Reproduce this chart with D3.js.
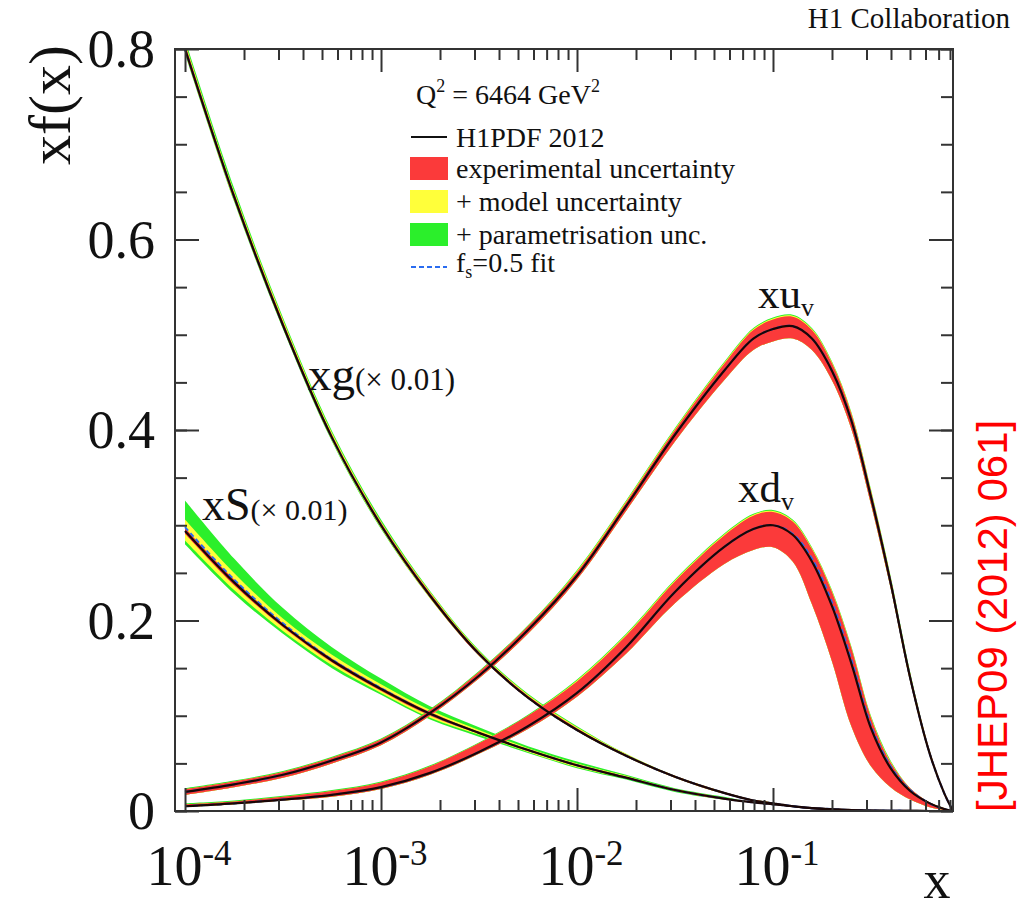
<!DOCTYPE html>
<html><head><meta charset="utf-8">
<script src="https://cdn.jsdelivr.net/npm/d3@7"></script>
<style>body{margin:0;background:#fff}svg{display:block}</style>
</head><body><svg id="c" width="1032" height="913"></svg>
<script>
// ---------------- data ----------------
const xGrid = [1e-4,1.78e-4,3.16e-4,5.62e-4,1e-3,1.78e-3,3.16e-3,5.62e-3,0.01,0.0178,0.0316,0.0562,0.0794,0.1,0.126,0.158,0.2,0.251,0.316,0.398,0.501,0.631,0.75,0.8288];

const xgC    = [0.800,0.645,0.510,0.392,0.300,0.226,0.165,0.119,0.085,0.058,0.036,0.019,0.011,0.008,0.005,0.003,0.0015,0.0008,0.0004,0.0002,0.0001,0,0,0];
const xgExpU = [0.005,0.004,0.004,0.003,0.003,0.003,0.002,0.002,0.002,0.001,0.001,0.001,0.001,0.001,0,0,0,0,0,0,0,0,0,0];
const xgExpD = [0.003,0.003,0.002,0.002,0.002,0.002,0.002,0.001,0.001,0.001,0.001,0.001,0,0,0,0,0,0,0,0,0,0,0,0];
const xgModU = [0.002,0.002,0.002,0.002,0.001,0.001,0.001,0.001,0.001,0.001,0,0,0,0,0,0,0,0,0,0,0,0,0,0];
const xgModD = [0.001,0.001,0.001,0.001,0.001,0.001,0,0,0,0,0,0,0,0,0,0,0,0,0,0,0,0,0,0];
const xgParU = [0.003,0.003,0.002,0.002,0.002,0.001,0.001,0.001,0.001,0,0,0,0,0,0,0,0,0,0,0,0,0,0,0];
const xgParD = [0.001,0.001,0.001,0.001,0.001,0,0,0,0,0,0,0,0,0,0,0,0,0,0,0,0,0,0,0];

const xsC    = [0.294,0.240,0.195,0.158,0.128,0.102,0.082,0.064,0.048,0.035,0.022,0.013,0.009,0.007,0.005,0.003,0.002,0.001,0.0005,0.0002,0.0001,0,0,0];
const xsFs   = [0.298,0.243,0.197,0.159,0.129,0.102,0.082,0.064,0.048,0.035,0.022,0.013,0.009,0.007,0.005,0.003,0.002,0.001,0.0005,0.0002,0.0001,0,0,0];
const xsExpU = [0.003,0.003,0.002,0.002,0.002,0.002,0.001,0.001,0.001,0.001,0.001,0.001,0,0,0,0,0,0,0,0,0,0,0,0];
const xsExpD = [0.003,0.003,0.002,0.002,0.002,0.002,0.001,0.001,0.001,0.001,0.001,0.001,0,0,0,0,0,0,0,0,0,0,0,0];
const xsModU = [0.009,0.007,0.005,0.004,0.003,0.002,0.002,0.001,0.001,0.001,0,0,0,0,0,0,0,0,0,0,0,0,0,0];
const xsModD = [0.007,0.005,0.004,0.003,0.002,0.002,0.001,0.001,0.001,0,0,0,0,0,0,0,0,0,0,0,0,0,0,0];
const xsParU = [0.020,0.015,0.011,0.008,0.006,0.004,0.003,0.002,0.002,0.001,0.001,0.001,0,0,0,0,0,0,0,0,0,0,0,0];
const xsParD = [0.004,0.004,0.003,0.003,0.002,0.002,0.002,0.001,0.001,0.001,0.001,0,0,0,0,0,0,0,0,0,0,0,0,0];

const xuC    = [0.020,0.028,0.038,0.053,0.072,0.103,0.142,0.190,0.247,0.320,0.395,0.462,0.496,0.506,0.509,0.496,0.462,0.410,0.330,0.240,0.140,0.060,0.018,0];
const xuExpU = [0.003,0.003,0.003,0.003,0.003,0.003,0.004,0.004,0.004,0.004,0.005,0.007,0.009,0.010,0.010,0.009,0.008,0.007,0.006,0.005,0.004,0.003,0.001,0];
const xuExpD = [0.003,0.003,0.003,0.003,0.003,0.003,0.003,0.004,0.004,0.005,0.007,0.010,0.012,0.013,0.013,0.012,0.010,0.009,0.008,0.006,0.004,0.002,0.001,0];
const xuModU = [0,0,0,0,0,0,0,0,0.001,0.001,0.001,0.001,0.001,0.001,0.001,0.001,0.001,0.001,0.001,0.001,0.001,0,0,0];
const xuModD = [0,0,0,0,0,0,0,0,0,0,0,0,0,0,0,0,0,0,0,0,0,0,0,0];
const xuParU = [0.001,0.001,0.001,0.001,0.001,0.001,0.001,0.001,0.001,0.001,0.001,0.001,0.001,0.001,0.001,0.001,0.001,0.001,0.001,0.001,0.001,0,0,0];
const xuParD = [0,0,0,0,0,0,0,0,0,0,0,0,0,0,0,0,0,0,0,0,0,0,0,0];

const xdC    = [0.005,0.008,0.012,0.017,0.025,0.040,0.062,0.089,0.124,0.172,0.230,0.277,0.296,0.300,0.290,0.262,0.215,0.155,0.087,0.045,0.021,0.008,0.002,0];
const xdFs   = [0.005,0.008,0.012,0.017,0.025,0.040,0.062,0.089,0.124,0.172,0.230,0.277,0.296,0.300,0.291,0.265,0.219,0.159,0.090,0.047,0.022,0.008,0.002,0];
const xdExpU = [0.002,0.002,0.003,0.004,0.005,0.007,0.009,0.011,0.012,0.012,0.011,0.012,0.014,0.014,0.014,0.013,0.015,0.016,0.011,0.006,0.003,0.001,0.001,0];
const xdExpD = [0.001,0.001,0.001,0.002,0.002,0.002,0.002,0.003,0.004,0.007,0.012,0.018,0.022,0.023,0.028,0.045,0.058,0.066,0.040,0.020,0.009,0.004,0.001,0];
const xdModU = [0,0,0,0,0,0,0,0,0.001,0.001,0.001,0.001,0.001,0.001,0.001,0.001,0.001,0.001,0.001,0.001,0,0,0,0];
const xdModD = [0,0,0,0,0,0,0,0,0,0,0,0,0,0,0,0,0,0,0,0,0,0,0,0];
const xdParU = [0.001,0.001,0.001,0.001,0.001,0.001,0.001,0.001,0.001,0.001,0.001,0.001,0.001,0.001,0.001,0.001,0.001,0.001,0.001,0.001,0,0,0,0];
const xdParD = [0,0,0,0,0,0,0,0,0,0,0,0,0,0,0,0,0,0,0,0,0,0,0,0];

const xMajor = [1e-4,1e-3,1e-2,1e-1];
const xMajorLabels = [["10","-4"],["10","-3"],["10","-2"],["10","-1"]];
const yMajor = [0,0.2,0.4,0.6,0.8];
const yMajorLabels = ["0","0.2","0.4","0.6","0.8"];
const legendItems = ["H1PDF 2012","experimental uncertainty","+ model uncertainty","+ parametrisation unc."];

// ---------------- drawing ----------------
const L=175,R=953,T=49,B=811;
const svg = d3.select("#c");
svg.append("rect").attr("width",1032).attr("height",913).attr("fill","#fff");
const x = d3.scaleLog().domain([8.89e-5,0.8288]).range([L,R]);
const y = d3.scaleLinear().domain([0,0.8]).range([B,T]);
const serif = "'Liberation Serif','Times New Roman',serif";
const RED="#fb3a3a", YEL="#ffff3a", GRN="#2bef2b", BLUE="#2a6cf0";
const CURVE = d3.curveCatmullRom.alpha(0.5);

svg.append("clipPath").attr("id","clip").append("rect")
  .attr("x",L).attr("y",T).attr("width",R-L).attr("height",B-T);
const plot = svg.append("g").attr("clip-path","url(#clip)");

function drawBands(c, eU,eD,mU,mD,pU,pD){
  const area = (lo,hi)=>d3.area().x((d,i)=>x(xGrid[i])).y0((d,i)=>y(lo(i))).y1((d,i)=>y(hi(i))).curve(CURVE);
  plot.append("path").datum(c).attr("fill",GRN)
    .attr("d",area(i=>c[i]-eD[i]-mD[i]-pD[i], i=>c[i]+eU[i]+mU[i]+pU[i]));
  plot.append("path").datum(c).attr("fill",YEL)
    .attr("d",area(i=>c[i]-eD[i]-mD[i], i=>c[i]+eU[i]+mU[i]));
  plot.append("path").datum(c).attr("fill",RED)
    .attr("d",area(i=>c[i]-eD[i], i=>c[i]+eU[i]));
}
drawBands(xsC,xsExpU,xsExpD,xsModU,xsModD,xsParU,xsParD);
drawBands(xgC,xgExpU,xgExpD,xgModU,xgModD,xgParU,xgParD);
drawBands(xdC,xdExpU,xdExpD,xdModU,xdModD,xdParU,xdParD);
drawBands(xuC,xuExpU,xuExpD,xuModU,xuModD,xuParU,xuParD);

const line = d3.line().x((d,i)=>x(xGrid[i])).y(d=>y(d)).curve(CURVE);
[xsFs,xgC,xdFs,xuC].forEach(a=>{
  plot.append("path").datum(a).attr("fill","none").attr("stroke",BLUE)
    .attr("stroke-width",2).attr("stroke-dasharray","5,3").attr("d",line);
});
[xsC,xgC,xdC,xuC].forEach(a=>{
  plot.append("path").datum(a).attr("fill","none").attr("stroke","#1a0606")
    .attr("stroke-width",2.2).attr("d",line);
});

// axes
const minorX = x.ticks().filter(v=>v>=1e-4 && xMajor.indexOf(v)<0 && v<0.83);
const minorY = d3.range(0,0.8001,0.05);
function styleAxis(g){ g.select(".domain").remove(); g.selectAll("line").attr("stroke","#333").attr("stroke-width",2); g.selectAll("text").remove(); }
svg.append("g").attr("transform",`translate(0,${B})`).call(d3.axisBottom(x).tickValues(minorX).tickSize(-11).tickFormat("")).call(styleAxis);
svg.append("g").attr("transform",`translate(0,${B})`).call(d3.axisBottom(x).tickValues(xMajor).tickSize(-23).tickFormat("")).call(styleAxis);
svg.append("g").attr("transform",`translate(0,${T})`).call(d3.axisTop(x).tickValues(minorX).tickSize(-11).tickFormat("")).call(styleAxis);
svg.append("g").attr("transform",`translate(0,${T})`).call(d3.axisTop(x).tickValues(xMajor).tickSize(-23).tickFormat("")).call(styleAxis);
svg.append("g").attr("transform",`translate(${L},0)`).call(d3.axisLeft(y).tickValues(minorY).tickSize(-12).tickFormat("")).call(styleAxis);
svg.append("g").attr("transform",`translate(${L},0)`).call(d3.axisLeft(y).tickValues(yMajor).tickSize(-24).tickFormat("")).call(styleAxis);
svg.append("g").attr("transform",`translate(${R},0)`).call(d3.axisRight(y).tickValues(minorY).tickSize(-12).tickFormat("")).call(styleAxis);
svg.append("g").attr("transform",`translate(${R},0)`).call(d3.axisRight(y).tickValues(yMajor).tickSize(-24).tickFormat("")).call(styleAxis);
svg.append("rect").attr("x",L).attr("y",T).attr("width",R-L).attr("height",B-T)
  .attr("fill","none").attr("stroke","#333").attr("stroke-width",2);

// tick labels
yMajor.forEach((v,i)=>{
  svg.append("text").attr("x",155).attr("y",y(v)+18).attr("text-anchor","end")
    .attr("font-family",serif).attr("font-size",54).attr("fill","#111").text(yMajorLabels[i]);
});
xMajor.forEach((v,i)=>{
  const t = svg.append("text").attr("x",x(v)+4).attr("y",885).attr("text-anchor","middle")
    .attr("font-family",serif).attr("font-size",56).attr("fill","#111");
  t.append("tspan").text(xMajorLabels[i][0]);
  t.append("tspan").attr("font-size",35).attr("dy",-20).text(xMajorLabels[i][1]);
});
// axis titles
svg.append("text").attr("transform","translate(70,105) rotate(-90)").attr("text-anchor","middle")
  .attr("font-family",serif).attr("font-size",60).attr("fill","#111").text("xf(x)");
svg.append("text").attr("x",937).attr("y",898).attr("text-anchor","middle")
  .attr("font-family",serif).attr("font-size",54).attr("fill","#111").text("x");
svg.append("text").attr("x",1010).attr("y",28).attr("text-anchor","end")
  .attr("font-family",serif).attr("font-size",29).attr("fill","#111").text("H1 Collaboration");
svg.append("text").attr("transform","translate(1007,812) rotate(-90)").attr("text-anchor","start")
  .attr("font-family","'Liberation Sans',Arial,sans-serif").attr("font-size",42).attr("fill","#ff0000")
  .text("[JHEP09 (2012) 061]");

// curve labels
function curveLabel(px,py,main,extra,size,small,sub){
  const t = svg.append("text").attr("x",px).attr("y",py).attr("font-family",serif).attr("font-size",size).attr("fill","#111");
  t.append("tspan").text(main);
  if(sub) t.append("tspan").attr("font-size",small).attr("dy",8).text(sub);
  if(extra) t.append("tspan").attr("font-size",small).text(extra);
}
curveLabel(308,390,"xg","(× 0.01)",47,31);
curveLabel(202,520,"xS","(× 0.01)",46,30);
curveLabel(758,308,"xu",null,43,26,"v");
curveLabel(738,502,"xd",null,43,26,"v");

// legend
const lg = svg.append("g").attr("font-family",serif).attr("font-size",28).attr("fill","#111");
const q = lg.append("text").attr("x",416).attr("y",104);
q.append("tspan").text("Q");
q.append("tspan").attr("font-size",18).attr("dy",-12).text("2");
q.append("tspan").attr("dy",12).text(" = 6464 GeV");
q.append("tspan").attr("font-size",18).attr("dy",-12).text("2");
const rowY = [137,168,201,234,267];
lg.append("line").attr("x1",411).attr("x2",447).attr("y1",rowY[0]).attr("y2",rowY[0]).attr("stroke","#111").attr("stroke-width",2);
[RED,YEL,GRN].forEach((c,i)=>{
  lg.append("rect").attr("x",410).attr("y",rowY[i+1]-11).attr("width",38).attr("height",23).attr("fill",c);
});
lg.append("line").attr("x1",411).attr("x2",447).attr("y1",rowY[4]).attr("y2",rowY[4]).attr("stroke",BLUE).attr("stroke-width",2).attr("stroke-dasharray","5,3");
legendItems.forEach((s,i)=>{
  lg.append("text").attr("x",456).attr("y",rowY[i]+10).text(s);
});
const fs = lg.append("text").attr("x",456).attr("y",rowY[4]+5);
fs.append("tspan").text("f");
fs.append("tspan").attr("font-size",18).attr("dy",6).text("s");
fs.append("tspan").attr("dy",-6).text("=0.5 fit");
</script></body></html>
